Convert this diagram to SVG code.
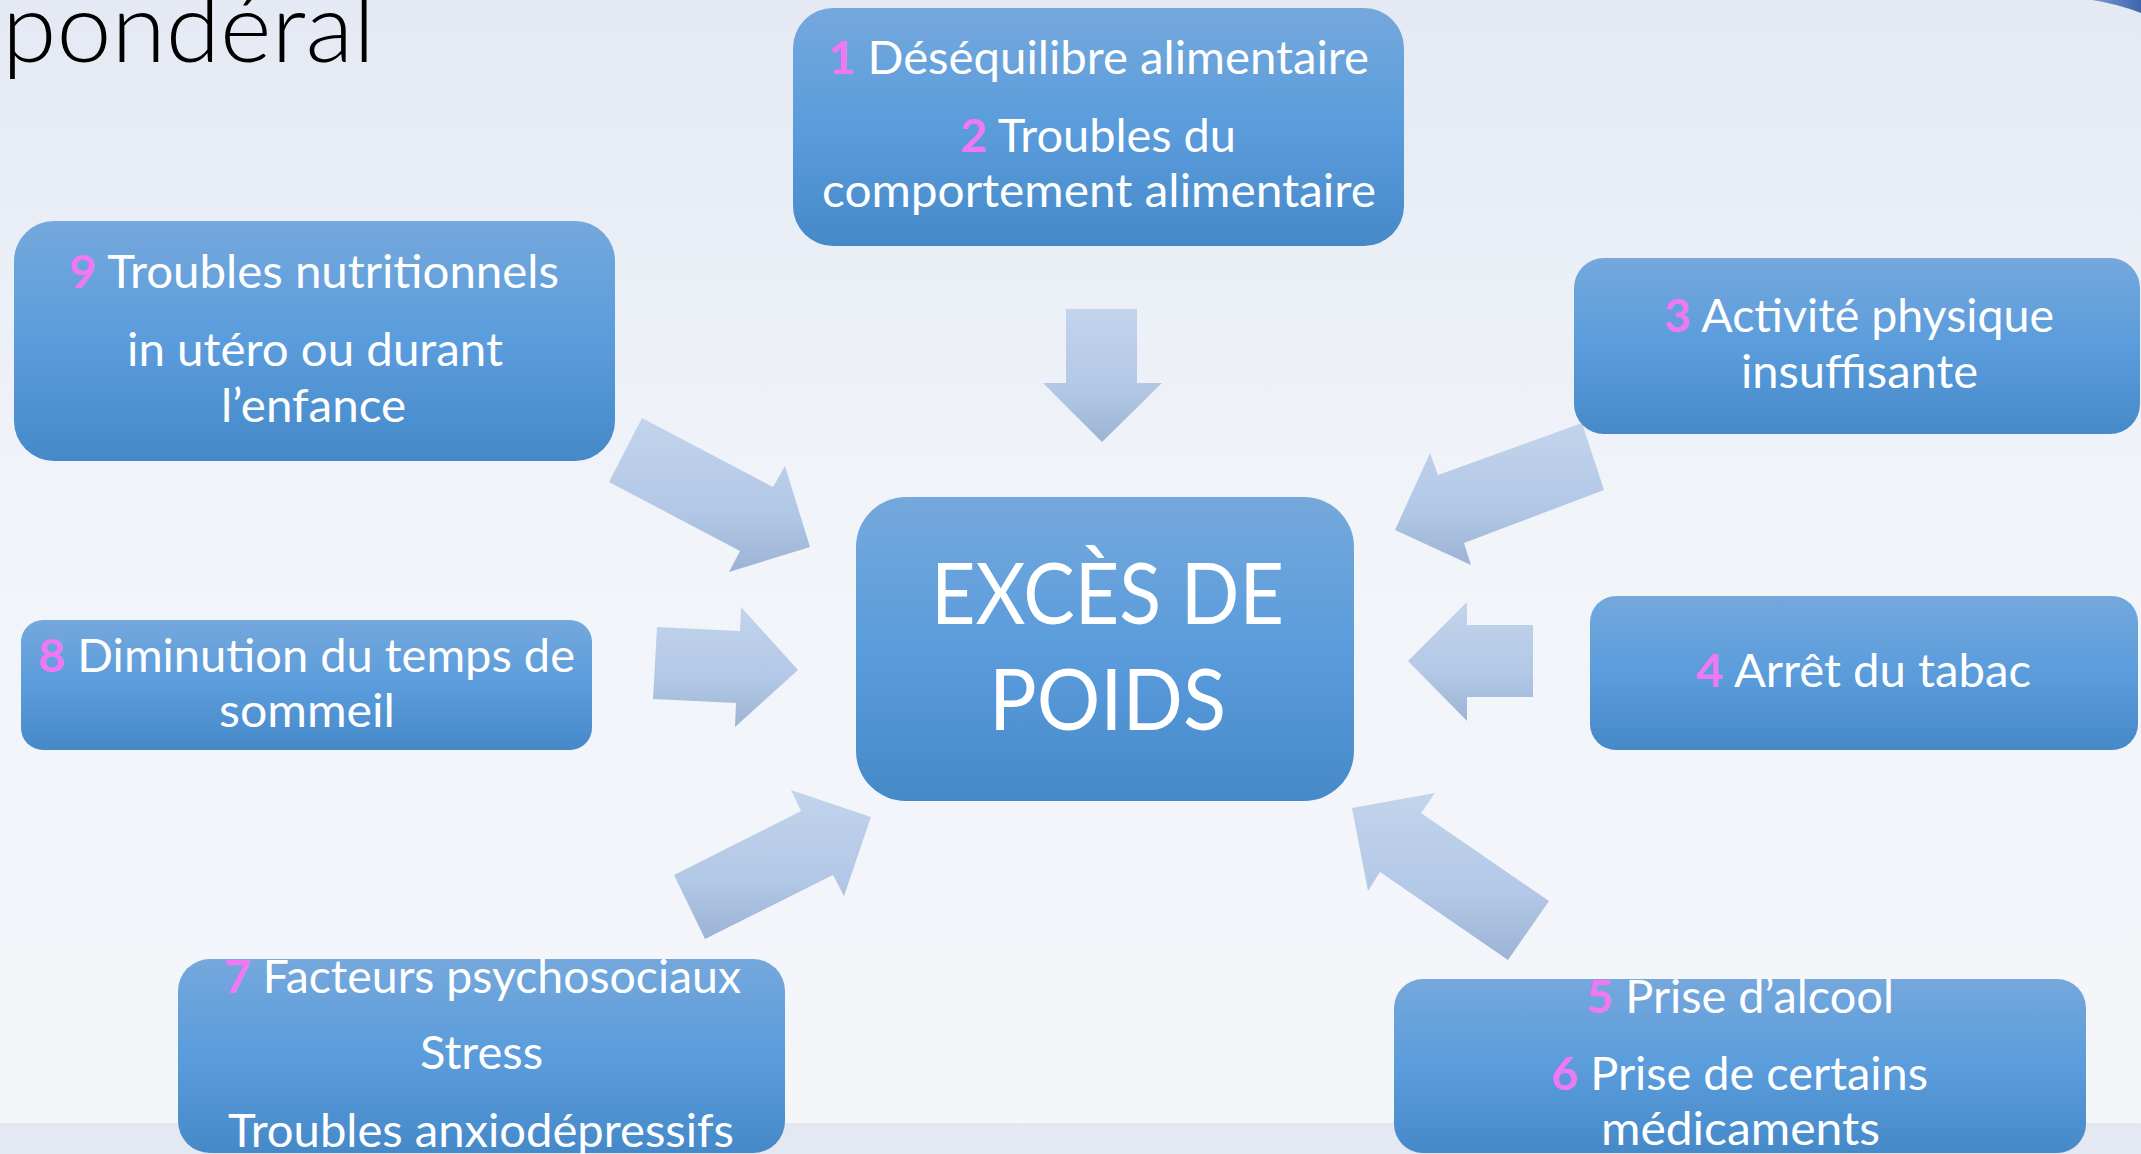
<svg xmlns="http://www.w3.org/2000/svg" width="2141" height="1154" viewBox="0 0 2141 1154">
<defs>
<linearGradient id="bg" x1="0" y1="0" x2="0" y2="1">
<stop offset="0" stop-color="#e4e9f3"/>
<stop offset="0.45" stop-color="#f1f4f9"/>
<stop offset="1" stop-color="#f4f6fa"/>
</linearGradient>
<linearGradient id="nodeFill" x1="0" y1="0" x2="0" y2="1">
<stop offset="0" stop-color="#75a8dc"/>
<stop offset="0.5" stop-color="#5a9cdc"/>
<stop offset="1" stop-color="#4689c8"/>
</linearGradient>
<linearGradient id="arrowFill" x1="0" y1="0" x2="0" y2="1">
<stop offset="0" stop-color="#c3d4ec"/>
<stop offset="0.6" stop-color="#b2c8e6"/>
<stop offset="1" stop-color="#9db3d4"/>
</linearGradient>
<linearGradient id="swoosh" x1="0" y1="0" x2="1" y2="0">
<stop offset="0" stop-color="#7b9bd0"/>
<stop offset="1" stop-color="#3d66ad"/>
</linearGradient>
</defs>
<style>
.node{fill:url(#nodeFill);}
.arrow{fill:url(#arrowFill);}
.t{font-family:Lato,"Liberation Sans","DejaVu Sans",sans-serif;fill:#ffffff;font-size:46px;}
.num{fill:#ef78f3;font-weight:bold;}
.big{font-size:86px;}
.title{font-family:Lato,"Liberation Sans","DejaVu Sans",sans-serif;font-weight:300;font-size:97px;fill:#000000;}
</style>
<rect x="0" y="0" width="2141" height="1154" fill="url(#bg)"/>
<rect x="0" y="1123" width="2141" height="31" fill="#e3e8f2"/>
<path d="M2092,0 Q2118,4 2141,13 L2141,0 Z" fill="url(#swoosh)"/>
<text class="title" x="2" y="62" textLength="373" lengthAdjust="spacingAndGlyphs">pondéral</text>

<g id="connectors">
<polygon class="arrow" points="1066,309 1137,309 1137,383 1162,383 1102,442 1043,383 1066,383"/>
<polygon class="arrow" points="609,482 642,418 773,487 785,466 810,547 729,572 740,551"/>
<polygon class="arrow" points="657,627 740,631 741,607 798,670 735,727 736,703 653,699"/>
<polygon class="arrow" points="674,875 801,811 791,790 871,817 844,896 833,875 705,939"/>
<polygon class="arrow" points="1582,423 1604,490 1464,543 1471,565 1395,530 1430,453 1438,475"/>
<polygon class="arrow" points="1408,661 1467,602 1467,625 1533,625 1533,697 1467,697 1467,721"/>
<polygon class="arrow" points="1352,808 1435,793 1421,813 1549,901 1508,960 1380,872 1368,891"/>
</g>

<g id="node-center">
<rect class="node" x="856" y="497" width="498" height="304" rx="50"/>
<text class="t big" x="931" y="624" textLength="353" lengthAdjust="spacingAndGlyphs">EXCÈS DE</text>
<text class="t big" x="989" y="730" textLength="237" lengthAdjust="spacingAndGlyphs">POIDS</text>
</g>

<g id="node-1-2">
<rect class="node" x="793" y="8" width="611" height="238" rx="40"/>
<text class="t" x="828" y="74" textLength="541" lengthAdjust="spacingAndGlyphs"><tspan class="num">1</tspan> Déséquilibre alimentaire</text>
<text class="t" x="960" y="152" textLength="276" lengthAdjust="spacingAndGlyphs"><tspan class="num">2</tspan> Troubles du</text>
<text class="t" x="822" y="207" textLength="554" lengthAdjust="spacingAndGlyphs">comportement alimentaire</text>
</g>

<g id="node-9">
<rect class="node" x="14" y="221" width="601" height="240" rx="40"/>
<text class="t" x="69" y="288" textLength="490" lengthAdjust="spacingAndGlyphs"><tspan class="num">9</tspan> Troubles nutritionnels</text>
<text class="t" x="127" y="366" textLength="376" lengthAdjust="spacingAndGlyphs">in utéro ou durant</text>
<text class="t" x="221" y="422" textLength="185" lengthAdjust="spacingAndGlyphs">l’enfance</text>
</g>

<g id="node-3">
<rect class="node" x="1574" y="258" width="566" height="176" rx="30"/>
<text class="t" x="1664" y="332" textLength="390" lengthAdjust="spacingAndGlyphs"><tspan class="num">3</tspan> Activité physique</text>
<text class="t" x="1741" y="388" textLength="237" lengthAdjust="spacingAndGlyphs">insuffisante</text>
</g>

<g id="node-8">
<rect class="node" x="21" y="620" width="571" height="130" rx="22"/>
<text class="t" x="38" y="672" textLength="537" lengthAdjust="spacingAndGlyphs"><tspan class="num">8</tspan> Diminution du temps de</text>
<text class="t" x="219" y="727" textLength="176" lengthAdjust="spacingAndGlyphs">sommeil</text>
</g>

<g id="node-4">
<rect class="node" x="1590" y="596" width="548" height="154" rx="26"/>
<text class="t" x="1696" y="687" textLength="335" lengthAdjust="spacingAndGlyphs"><tspan class="num">4</tspan> Arrêt du tabac</text>
</g>

<g id="node-7">
<rect class="node" x="178" y="959" width="607" height="194" rx="32"/>
<text class="t" x="224" y="993" textLength="517" lengthAdjust="spacingAndGlyphs"><tspan class="num">7</tspan> Facteurs psychosociaux</text>
<text class="t" x="420" y="1069" textLength="123" lengthAdjust="spacingAndGlyphs">Stress</text>
<text class="t" x="228" y="1147" textLength="506" lengthAdjust="spacingAndGlyphs">Troubles anxiodépressifs</text>
</g>

<g id="node-5-6">
<rect class="node" x="1394" y="979" width="692" height="174" rx="29"/>
<text class="t" x="1586" y="1013" textLength="308" lengthAdjust="spacingAndGlyphs"><tspan class="num">5</tspan> Prise d’alcool</text>
<text class="t" x="1551" y="1090" textLength="377" lengthAdjust="spacingAndGlyphs"><tspan class="num">6</tspan> Prise de certains</text>
<text class="t" x="1601" y="1145" textLength="279" lengthAdjust="spacingAndGlyphs">médicaments</text>
</g>
</svg>
